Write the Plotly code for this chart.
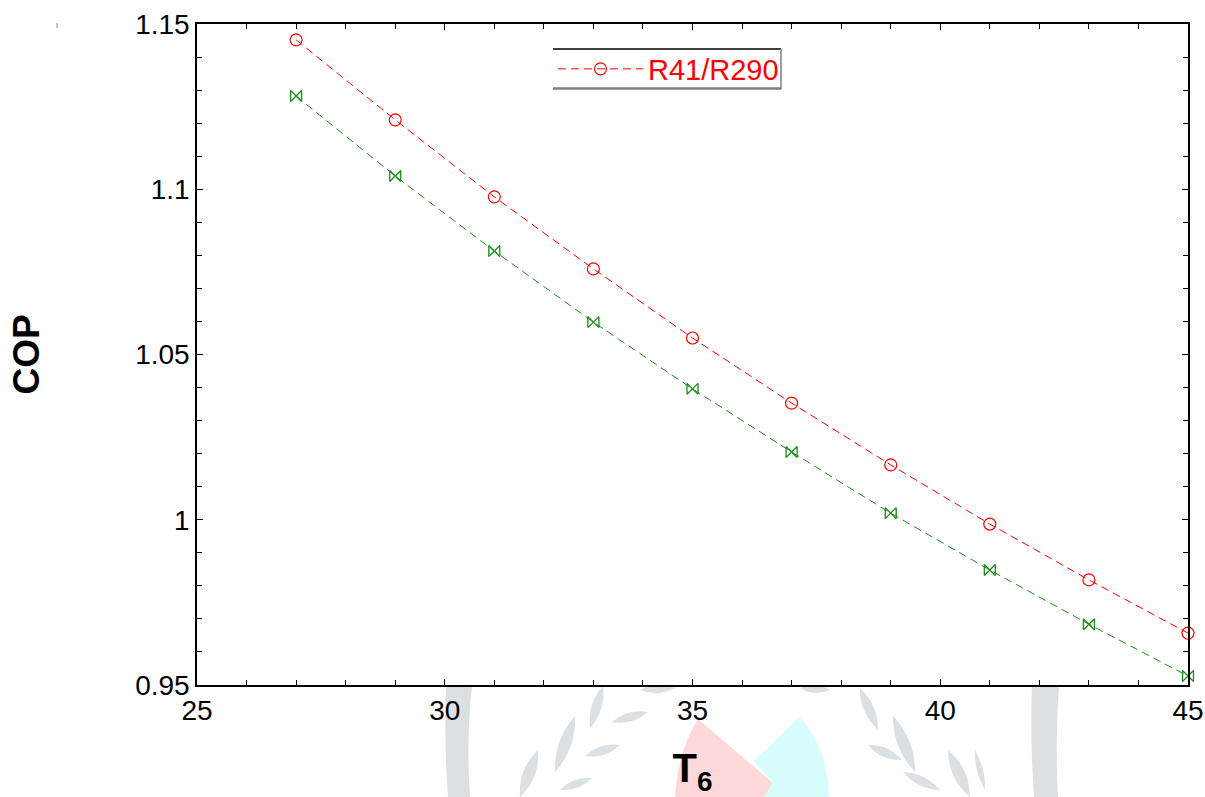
import plotly.graph_objects as go

t6 = [27, 29, 31, 33, 35, 37, 39, 41, 43, 45]
cop_r41_r290 = [1.1452, 1.1210, 1.0977, 1.0759, 1.0550, 1.0353, 1.0166, 0.9987, 0.9818, 0.9657]
cop_second = [1.1282, 1.1040, 1.0813, 1.0598, 1.0396, 1.0205, 1.0020, 0.9848, 0.9684, 0.9527]

W, H = 1205, 797
ML, MR, MT, MB = 197, 17, 24, 112
PW, PH = W - ML - MR, H - MT - MB


def px(x):
    return (x - ML) / PW


def py(y):
    return (H - MB - y) / PH


fig = go.Figure()
fig.add_trace(go.Scatter(
    x=t6, y=cop_second, mode="lines+markers", showlegend=False,
    line=dict(color="#1a8c1a", width=1, dash="8px,5px"),
    marker=dict(symbol="bowtie-open", size=11, color="#1a8c1a", line=dict(width=1.3, color="#1a8c1a")),
    cliponaxis=False,
))
fig.add_trace(go.Scatter(
    x=t6, y=cop_r41_r290, mode="lines+markers", name="R41/R290",
    line=dict(color="#ff0000", width=1, dash="8px,5px"),
    marker=dict(symbol="circle-open", size=12, color="#ff0000", line=dict(width=1.2, color="#ff0000")),
    cliponaxis=False,
))

shapes = []
GRAY = "rgba(205,214,219,0.75)"


def leaf(x1, y1, x2, y2, w):
    mx, my = (x1 + x2) / 2, (y1 + y2) / 2
    dx, dy = x2 - x1, y2 - y1
    n = (dx * dx + dy * dy) ** 0.5
    ox, oy = -dy / n * w, dx / n * w
    return (f"M {px(x1)},{py(y1)} Q {px(mx + ox)},{py(my + oy)} {px(x2)},{py(y2)} "
            f"Q {px(mx - ox)},{py(my - oy)} {px(x1)},{py(y1)} Z")


watermark_paths = [
    # vertical bands
    f"M {px(446)},{py(686)} L {px(472)},{py(686)} Q {px(466)},{py(740)} {px(470)},{py(797)} L {px(448)},{py(797)} Q {px(444)},{py(740)} {px(446)},{py(686)} Z",
    f"M {px(1032)},{py(686)} L {px(1059)},{py(686)} Q {px(1055)},{py(740)} {px(1058)},{py(797)} L {px(1034)},{py(797)} Q {px(1030)},{py(740)} {px(1032)},{py(686)} Z",
    # left laurel
    leaf(603, 686, 590, 728, 10), leaf(575, 716, 555, 772, 12), leaf(538, 750, 520, 797, 12),
    leaf(640, 690, 675, 688, 8), leaf(612, 722, 648, 712, 9), leaf(585, 756, 620, 745, 9),
    leaf(560, 790, 592, 778, 8),
    # right laurel
    leaf(860, 688, 878, 730, 10), leaf(893, 716, 915, 772, 12), leaf(948, 750, 970, 797, 12),
    leaf(830, 690, 800, 688, 8), leaf(868, 745, 902, 760, 9), leaf(903, 772, 940, 790, 9),
    leaf(975, 750, 985, 790, 6),
]
for p in watermark_paths:
    shapes.append(dict(type="path", xref="paper", yref="paper", layer="below",
                       path=p, fillcolor=GRAY, line=dict(width=0)))

# pink and cyan wedges
shapes.append(dict(type="path", xref="paper", yref="paper", layer="below",
                   path=f"M {px(698)},{py(719)} L {px(773)},{py(783)} L {px(764)},{py(797)} L {px(675)},{py(797)} Q {px(678)},{py(750)} {px(698)},{py(719)} Z",
                   fillcolor="#ffd9d9", line=dict(width=0)))
shapes.append(dict(type="path", xref="paper", yref="paper", layer="below",
                   path=f"M {px(800)},{py(716)} Q {px(828)},{py(750)} {px(829)},{py(797)} L {px(764)},{py(797)} L {px(773)},{py(783)} L {px(754)},{py(761)} Z",
                   fillcolor="#d8fcfc", line=dict(width=0)))

# legend frame: black top, gray right/bottom (shadow)
shapes.append(dict(type="line", xref="paper", yref="paper", x0=px(553), x1=px(781), y0=py(49), y1=py(49),
                   line=dict(color="black", width=1.5)))
shapes.append(dict(type="line", xref="paper", yref="paper", x0=px(781), x1=px(781), y0=py(49), y1=py(89),
                   line=dict(color="#7f7f7f", width=1.5)))
shapes.append(dict(type="line", xref="paper", yref="paper", x0=px(553), x1=px(781), y0=py(88.5), y1=py(88.5),
                   line=dict(color="#7f7f7f", width=2.5)))
# stray mark at top left
shapes.append(dict(type="line", xref="paper", yref="paper", x0=px(57), x1=px(57), y0=py(23), y1=py(28),
                   line=dict(color="#888888", width=1)))

axis_common = dict(
    showline=True, linecolor="black", linewidth=1.5, mirror="allticks",
    ticks="inside", ticklen=6, tickcolor="black", tickwidth=1,
    showgrid=False, zeroline=False, automargin=False,
    tickfont=dict(family="Liberation Sans, Arial", size=28, color="black"),
)

fig.update_xaxes(range=[25, 45], dtick=5, tick0=25,
                 minor=dict(dtick=1, ticks="inside", ticklen=5, tickcolor="black"),
                 title=dict(text="<b>T<sub>6</sub></b>", font=dict(family="Liberation Sans, Arial", size=40, color="black"), standoff=29),
                 **axis_common)
fig.update_yaxes(range=[0.95, 1.15], dtick=0.05, tick0=0.95,
                 minor=dict(dtick=0.01, ticks="inside", ticklen=5, tickcolor="black"),
                 title=dict(text="<b>COP</b>", font=dict(family="Liberation Sans, Arial", size=37, color="black"), standoff=84),
                 **axis_common)

fig.update_layout(
    width=W, height=H,
    margin=dict(l=ML, r=MR, t=MT, b=MB, autoexpand=False),
    plot_bgcolor="white", paper_bgcolor="white",
    shapes=shapes,
    legend=dict(x=px(553), y=py(69), xanchor="left", yanchor="middle",
                borderwidth=0, bgcolor="rgba(255,255,255,0)",
                font=dict(family="Liberation Sans, Arial", size=29, color="#ff0000"),
                itemwidth=85, tracegroupgap=0),
)

fig.write_html("out.html", config={"displayModeBar": False},
               post_script="document.body.style.margin='0';document.body.style.overflow='hidden';")
